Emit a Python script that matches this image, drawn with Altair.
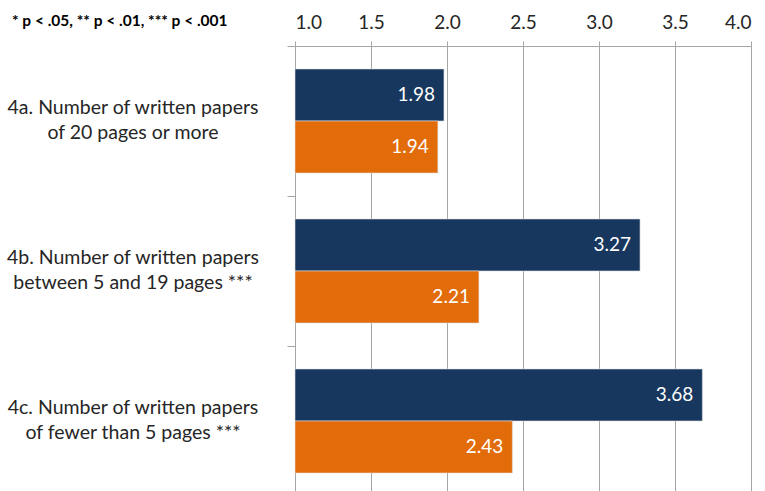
import altair as alt
import pandas as pd

# Items, two groups of means per item
items = [
    "4a. Number of written papers\nof 20 pages or more",
    "4b. Number of written papers\nbetween 5 and 19 pages ***",
    "4c. Number of written papers\nof fewer than 5 pages ***",
]
group_a = [1.98, 3.27, 3.68]
group_b = [1.94, 2.21, 2.43]
groups = ["A", "B"]
colors = ["#17375E", "#E36C0A"]
x_ticks = [1.0, 1.5, 2.0, 2.5, 3.0, 3.5, 4.0]
note = "* p < .05, ** p < .01, *** p < .001"

rows = []
for item, a, b in zip(items, group_a, group_b):
    rows.append({"item": item, "group": groups[0], "value": a, "base": 1.0})
    rows.append({"item": item, "group": groups[1], "value": b, "base": 1.0})
df = pd.DataFrame(rows)

font = "Lato"

y_enc = alt.Y(
    "item:N",
    sort=items,
    scale=alt.Scale(paddingInner=0, paddingOuter=0),
    axis=alt.Axis(
        title=None,
        labels=False,
        tickBand="extent",
        tickSize=8,
        tickColor="#A6A6A6",
        domainColor="#A6A6A6",
        grid=False,
    ),
)
x_enc = alt.X(
    "value:Q",
    scale=alt.Scale(domain=[1, 4], zero=False, nice=False),
    axis=alt.Axis(
        orient="top",
        values=x_ticks,
        format=".1f",
        title=None,
        tickSize=5,
        tickColor="#A6A6A6",
        domainColor="#A6A6A6",
        gridColor="#A6A6A6",
        gridWidth=1,
        labelFont=font,
        labelFontSize=19,
        labelColor="#262626",
        labelPadding=9,
    ),
)
yoff = alt.YOffset("group:N", sort=groups, scale=alt.Scale(paddingInner=0, paddingOuter=0.442))
color_enc = alt.Color("group:N", sort=groups, scale=alt.Scale(domain=groups, range=colors), legend=None)

base = alt.Chart(df)

bars = base.mark_bar(stroke="#DDDDDD", strokeWidth=0.6).encode(
    y=y_enc, yOffset=yoff, x=x_enc, x2="base:Q", color=color_enc
)

values = base.mark_text(
    align="right", baseline="middle", dx=-9, color="white", font=font, fontSize=19
).encode(y=alt.Y("item:N", sort=items), yOffset=yoff, x="value:Q", text=alt.Text("value:Q", format=".2f"))

labels = (
    alt.Chart(pd.DataFrame({"item": items}))
    .mark_text(align="center", baseline="middle", dy=-13, font=font, fontSize=19.5, color="#262626", lineBreak="\n", lineHeight=25)
    .encode(y=alt.Y("item:N", sort=items), x=alt.value(-162), text="item:N")
)

footnote = (
    alt.Chart(pd.DataFrame({"t": [note]}))
    .mark_text(align="left", baseline="middle", font=font, fontSize=15.5, fontWeight="bold", color="#000000")
    .encode(x=alt.value(-283), y=alt.value(-25), text="t:N")
)

chart = (
    alt.layer(bars, values, labels, footnote)
    .properties(
        width=456,
        height=450,
        autosize=alt.AutoSizeParams(type="none"),
        padding={"left": 295, "top": 46, "right": 14, "bottom": 0},
        background="white",
    )
    .configure_view(stroke=None)
)

chart.save("out.html", embed_options={"renderer": "svg", "actions": False})
